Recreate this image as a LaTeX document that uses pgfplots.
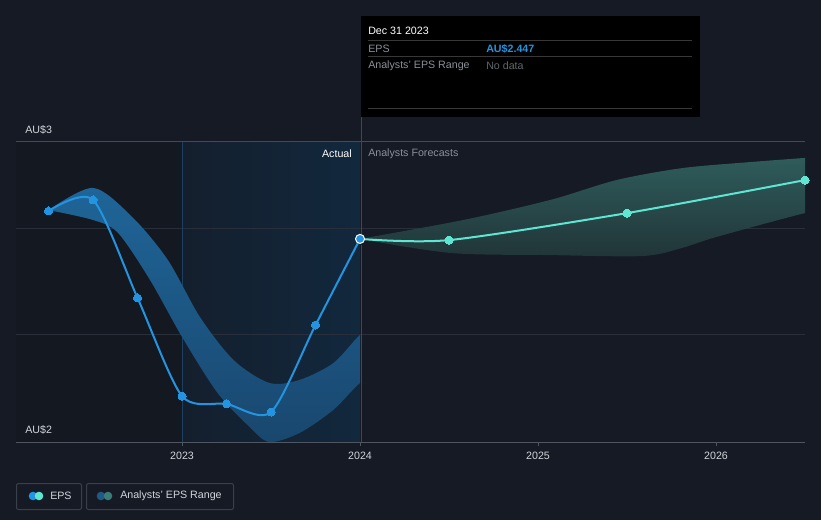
\documentclass[border=0pt]{standalone}
\usepackage{pgfplots}
\pgfplotsset{compat=1.18}
\usepackage{fontspec}
\setmainfont{Liberation Sans}
\definecolor{bg}{HTML}{151A24}
\definecolor{leftbg}{HTML}{131821}
\definecolor{midl}{HTML}{141F2D}
\definecolor{midr}{HTML}{12283D}
\definecolor{gridc}{HTML}{282F3A}
\definecolor{gridb}{HTML}{50565F}
\definecolor{epsblue}{HTML}{2394DF}
\definecolor{teal}{HTML}{5EE6D2}
\definecolor{bandtop}{HTML}{1F6598}
\definecolor{bandbot}{HTML}{19476E}
\definecolor{ftop}{HTML}{305F5E}
\definecolor{fbot}{HTML}{213538}
\definecolor{tickc}{HTML}{D2D5DA}
\definecolor{greyt}{HTML}{8A8F98}
\definecolor{dgreyt}{HTML}{62666D}
\definecolor{vline}{HTML}{21507C}
\definecolor{legb}{HTML}{3A404B}
\definecolor{legc}{HTML}{1F5A85}
\definecolor{legd}{HTML}{3A7C78}
\newcommand{\sz}{\fontsize{8}{9.6}\selectfont}
\begin{document}
\begin{tikzpicture}
\begin{scope}[x=0.75pt,y=-0.75pt]
\useasboundingbox (0,0) rectangle (821,520);
\fill[bg] (0,0) rectangle (821,520);
\end{scope}
\begin{axis}[
  at={(12pt,-331.5pt)}, anchor=south west,
  scale only axis, width=591.75pt, height=225pt,
  xmin=2022.067, xmax=2026.5, ymin=2, ymax=3,
  axis line style={draw=none},
  xtick={2023,2024,2025,2026}, xticklabels={2023,2024,2025,2026},
  xtick pos=lower,
  x tick label style={font=\sz, text=tickc, yshift=-1pt},
  ytick=\empty,
  tick align=outside, major tick length=3pt,
  xtick style={draw=gridb, line width=0.75pt},
]
\fill[leftbg] (axis cs:2022.067,2) rectangle (axis cs:2023,3);
\shade[left color=midl, right color=midr] (axis cs:2023,2) rectangle (axis cs:2024,3);
\draw[gridc, line width=0.75pt] (axis cs:2022.067,2.357) -- (axis cs:2026.5,2.357);
\draw[gridc, line width=0.75pt] (axis cs:2022.067,2.713) -- (axis cs:2026.5,2.713);
\draw[gridb!80!bg, line width=0.75pt] (axis cs:2022.067,3) -- (axis cs:2026.5,3);
\draw[gridb, line width=0.75pt] (axis cs:2022.067,2) -- (axis cs:2026.5,2);
\draw[vline!70!bg, line width=0.6pt] (axis cs:2023,2) -- (axis cs:2023,3);
% past band: upper edge, then lower edge reversed
\begin{scope}
\clip (axis cs:2022,1.9) rectangle (axis cs:2024,3.1);
\addplot[top color=bandtop, bottom color=bandbot, draw=none, smooth] table {
2022.25 2.773
2022.50 2.847
2022.72 2.750
2022.92 2.607
2023.10 2.417
2023.29 2.273
2023.49 2.197
2023.66 2.207
2023.85 2.263
2024.00 2.357
2024.06 2.357
2024.06 2.197
2024.00 2.197
2023.85 2.107
2023.66 2.030
2023.49 2.000
2023.38 2.050
2023.20 2.163
2023.00 2.350
2022.82 2.540
2022.64 2.697
2022.50 2.740
2022.25 2.773
};
\end{scope}
% forecast band: upper edge, then lower edge reversed
\addplot[top color=ftop, bottom color=fbot, draw=none, smooth] table {
2024.00 2.677
2024.58 2.740
2025.07 2.807
2025.44 2.873
2025.81 2.913
2026.19 2.933
2026.50 2.947
2026.56 2.950
2026.56 2.760
2026.50 2.763
2026.00 2.683
2025.81 2.647
2025.59 2.620
2025.07 2.623
2024.51 2.630
2024.00 2.677
};
% EPS actual
\addplot[epsblue, line width=1.5pt, smooth, tension=0.45, mark=*, mark size=3pt, mark options={fill=epsblue, draw=epsblue, line width=0pt}] table {
2022.25 2.770
2022.50 2.807
2022.75 2.480
2023.00 2.153
2023.25 2.127
2023.50 2.100
2023.75 2.390
2024.00 2.677
};
% EPS forecast
\addplot[teal, line width=1.5pt, smooth, tension=0.45, mark=*, mark size=3pt, mark options={fill=teal, draw=teal, line width=0pt}] table {
2024.00 2.677
2024.50 2.673
2025.50 2.763
2026.50 2.873
};
\addplot[only marks, mark=*, mark size=3.4pt, mark options={fill=epsblue, draw=white, line width=0.75pt}] table {
2024.00 2.677
};
\end{axis}
\begin{scope}[x=0.75pt,y=-0.75pt]
% vertical tooltip line
\draw[vline, line width=0.75pt] (361,16) -- (361,234);
\draw[vline, line width=0.75pt] (361,245) -- (361,442);
% tooltip
\fill[black] (361,16) rectangle (700,117);
\draw[white!22!black, line width=0.75pt] (368,41) -- (692,41);
\draw[white!22!black, line width=0.75pt] (368,57) -- (692,57);
\draw[white!22!black, line width=0.75pt] (368,109) -- (692,109);
\node[anchor=west, inner sep=0pt, text=white, font=\sz] at (368,31) {Dec 31 2023};
\node[anchor=west, inner sep=0pt, text=greyt, font=\sz] at (368,49) {EPS};
\node[anchor=west, inner sep=0pt, text=epsblue, font=\sz\bfseries] at (486,49) {AU\$2.447};
\node[anchor=west, inner sep=0pt, text=greyt, font=\sz] at (368,66) {Analysts' EPS Range};
\node[anchor=west, inner sep=0pt, text=dgreyt, font=\sz] at (486,66) {No data};
% y labels
\node[anchor=west, inner sep=0pt, text=tickc, font=\sz] at (25,130) {AU\$3};
\node[anchor=west, inner sep=0pt, text=tickc, font=\sz] at (25,430) {AU\$2};
% region labels
\node[anchor=east, inner sep=0pt, text=white, font=\sz] at (352,154) {Actual};
\node[anchor=west, inner sep=0pt, text=greyt, font=\sz] at (368,154) {Analysts Forecasts};
% legend
\draw[legb, line width=0.75pt, rounded corners=1.5pt] (16.5,483.5) rectangle (81.5,509.5);
\fill[epsblue] (33,496) circle (4.3);
\fill[teal] (39,496) circle (4.3);
\node[anchor=west, inner sep=0pt, text=tickc, font=\sz] at (50,496) {EPS};
\draw[legb, line width=0.75pt, rounded corners=1.5pt] (86.5,483.5) rectangle (233.5,509.5);
\fill[legc] (101,496) circle (4.3);
\fill[legd] (108,496) circle (4.3);
\node[anchor=west, inner sep=0pt, text=tickc, font=\sz] at (120,496) {Analysts' EPS Range};
\end{scope}
\end{tikzpicture}
\end{document}
